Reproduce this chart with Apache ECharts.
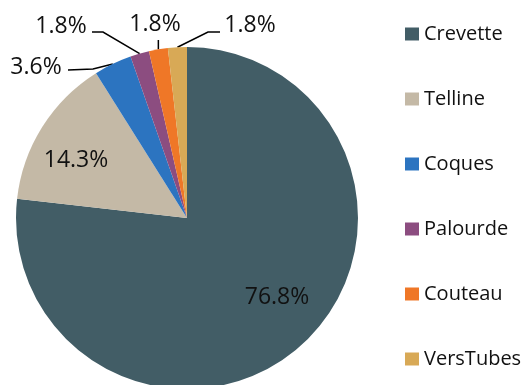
<!DOCTYPE html>
<html><head><meta charset="utf-8">
<script src="https://cdn.jsdelivr.net/npm/echarts@6/dist/echarts.min.js"></script>
<style>html,body{margin:0;padding:0;background:#fff}#c{width:526px;height:385px}</style>
</head><body><div id="c"></div>
<script>
// ---- data ----
const categories = ['Crevette', 'Telline', 'Coques', 'Palourde', 'Couteau', 'VersTubes'];
const counts = [43, 8, 2, 1, 1, 1];
const colors = ['#425D66', '#C4B9A6', '#2C74C0', '#8C4D80', '#EF7727', '#D8A956'];

// ---- layout ----
const CX = 187, CY = 218, R = 171;
const FONT = 'Open Sans';
// label text centres and leader-line bend/end points (layout only)
const labelPlace = [
  { x: 277, y: 297 },
  { x: 76, y: 160 },
  { x: 36, y: 67, line: [[93, 69], [68, 70]] },
  { x: 61, y: 26, line: [[103, 32], [92, 32]] },
  { x: 155, y: 24, line: 'vertical', lineEndY: 40 },
  { x: 250, y: 25, line: [[208, 32], [220, 32]] }
];

const total = counts.reduce((a, b) => a + b, 0);
// slice outer-edge point at mid angle (computed from data)
const edgePoints = [];
{
  let cum = 0;
  counts.forEach(v => {
    const th = (cum + v / 2) / total * 2 * Math.PI;
    edgePoints.push([CX + R * Math.sin(th), CY - R * Math.cos(th)]);
    cum += v;
  });
}

const chart = echarts.init(document.getElementById('c'), null, { renderer: 'canvas' });
chart.setOption({
  animation: false,
  color: colors,
  legend: {
    orient: 'vertical',
    left: 400,
    top: 19,
    itemGap: 45,
    itemWidth: 14,
    itemHeight: 13,
    icon: 'rect',
    textStyle: { fontSize: 20, color: '#111', fontFamily: FONT },
    data: categories
  },
  series: [{
    type: 'pie',
    center: [CX, CY],
    radius: R,
    startAngle: 90,
    clockwise: true,
    avoidLabelOverlap: false,
    itemStyle: { borderWidth: 0 },
    emphasis: { disabled: true },
    label: {
      show: true,
      position: 'outside',
      fontSize: 23,
      fontFamily: FONT,
      color: '#111',
      overflow: 'none',
      formatter: p => (p.value / total * 100).toFixed(1) + '%'
    },
    labelLine: { show: true, length: 10, length2: 10, lineStyle: { color: '#000', width: 1.5 } },
    labelLayout: function (params) {
      const i = params.dataIndex;
      const lp = labelPlace[i];
      const out = { x: lp.x, y: lp.y, align: 'center', verticalAlign: 'middle' };
      const e = edgePoints[i];
      if (lp.line === 'vertical') {
        out.labelLinePoints = [e, [e[0], (e[1] + lp.lineEndY) / 2], [e[0], lp.lineEndY]];
      } else if (lp.line) {
        out.labelLinePoints = [e, lp.line[0], lp.line[1]];
      }
      return out;
    },
    data: categories.map((name, i) => {
      const d = { name: name, value: counts[i] };
      if (i < 2) {
        d.label = { position: 'inside' };
        d.labelLine = { show: false };
      }
      return d;
    })
  }]
});
</script>
</body></html>
